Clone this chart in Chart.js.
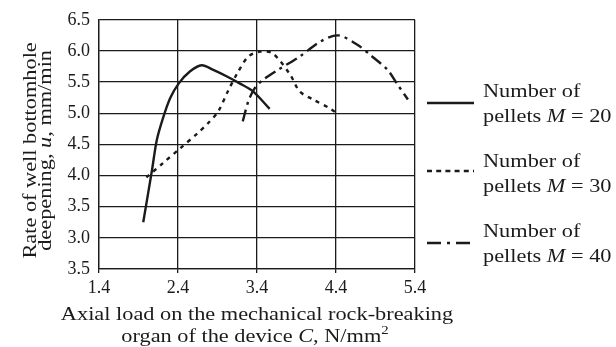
<!DOCTYPE html>
<html>
<head>
<meta charset="utf-8">
<script src="https://cdn.jsdelivr.net/npm/chart.js@4.4.0/dist/chart.umd.min.js"></script>
<style>
  html, body { margin: 0; padding: 0; background: #fff; }
  #wrap { width: 616px; height: 347px; position: relative; }
</style>
</head>
<body>
<div id="wrap"><canvas id="chart" width="616" height="347"></canvas></div>
<script>
// --- data ---
const xTicks = [1.4, 2.4, 3.4, 4.4, 5.4];
const yTicks = [2.5, 3.0, 3.5, 4.0, 4.5, 5.0, 5.5, 6.0, 6.5];
const yTickLabels = ['3.5', '3.0', '3.5', '4.0', '4.5', '5.0', '5.5', '6.0', '6.5'];

const m20X = [1.96, 2.07, 2.13, 2.21, 2.30, 2.41, 2.55, 2.70, 2.84, 3.02, 3.18, 3.35, 3.56];
const m20Y = [3.25, 4.08, 4.56, 4.92, 5.24, 5.48, 5.67, 5.77, 5.70, 5.59, 5.48, 5.35, 5.07];

const m30X = [2.00, 2.21, 2.43, 2.64, 2.78, 2.91, 3.03, 3.15, 3.29, 3.44, 3.60, 3.82, 3.94, 4.11, 4.32, 4.43];
const m30Y = [3.97, 4.20, 4.44, 4.67, 4.84, 5.03, 5.35, 5.64, 5.91, 5.99, 5.96, 5.62, 5.35, 5.22, 5.08, 4.98];

const m40X = [3.22, 3.29, 3.37, 3.48, 3.67, 3.94, 4.20, 4.43, 4.67, 4.83, 5.05, 5.18, 5.31];
const m40Y = [4.87, 5.19, 5.40, 5.54, 5.70, 5.91, 6.15, 6.25, 6.10, 5.94, 5.70, 5.46, 5.22];

const seriesNames = ['20', '30', '40'];
const seriesDash = [[], [4, 5], [12, 5, 3, 5]];

// --- styling ---
const INK = '#1c1a1b';
const SERIF = '"Liberation Serif", "Times New Roman", serif';
const TEXT_SX = 1.24; // reference type is set wider than Liberation Serif

const pts = (xs, ys) => xs.map((x, i) => ({ x: x, y: ys[i] }));

const lineDataset = (label, xs, ys, dash) => ({
    label: label,
    data: pts(xs, ys),
    borderColor: INK,
    borderWidth: 2.4,
    borderDash: dash,
    borderCapStyle: 'butt',
    pointRadius: 0,
    tension: 0.3,
    fill: false
});

// draws a run of text pieces (some italic / superscript), optionally widened
const drawRuns = (ctx, runs, x, y, align) => {
    ctx.save();
    ctx.translate(x, y);
    ctx.scale(TEXT_SX, 1);
    ctx.fillStyle = INK;
    ctx.textBaseline = 'alphabetic';
    ctx.textAlign = 'left';
    const fontOf = (r) => `${r.it ? 'italic ' : ''}${r.size || 18}px ${SERIF}`;
    let total = 0;
    runs.forEach(r => { ctx.font = fontOf(r); total += ctx.measureText(r.t).width; });
    let cx = align === 'center' ? -total / 2 : 0;
    runs.forEach(r => {
        ctx.font = fontOf(r);
        ctx.fillText(r.t, cx, r.dy || 0);
        cx += ctx.measureText(r.t).width;
    });
    ctx.restore();
};

const textPlugin = {
    id: 'textPlugin',
    afterDraw(chart) {
        const ctx = chart.ctx;
        const area = chart.chartArea;
        const midX = (area.left + area.right) / 2;
        const midY = (area.top + area.bottom) / 2 + 6;

        // y axis title (rotated)
        ctx.save();
        ctx.translate(0, midY);
        ctx.rotate(-Math.PI / 2);
        drawRuns(ctx, [{ t: 'Rate of well bottomhole' }], 0, 35.5, 'center');
        drawRuns(ctx, [{ t: 'deepening, ' }, { t: 'u', it: true }, { t: ', mm/min' }], 0, 51, 'center');
        ctx.restore();

        // x axis title
        drawRuns(ctx, [{ t: 'Axial load on the mechanical rock-breaking' }], midX, 320, 'center');
        drawRuns(ctx, [
            { t: 'organ of the device ' }, { t: 'C', it: true }, { t: ', N/mm' },
            { t: '2', size: 12, dy: -8 }
        ], midX - 2, 342, 'center');

        // legend
        const rowBase = [97, 167, 237];
        const sampleY = [103, 171, 243];
        chart.data.datasets.forEach((ds, i) => {
            ctx.save();
            ctx.strokeStyle = INK;
            ctx.lineWidth = 2.6;
            ctx.lineCap = 'butt';
            if (i === 1) ctx.setLineDash([5, 4.2]);
            if (i === 2) ctx.setLineDash([14, 6, 3, 6]);
            ctx.beginPath();
            ctx.moveTo(427, sampleY[i]);
            ctx.lineTo(474, sampleY[i]);
            ctx.stroke();
            ctx.restore();

            drawRuns(ctx, [{ t: 'Number of' }], 483, rowBase[i], 'left');
            drawRuns(ctx, [{ t: 'pellets ' }, { t: 'M', it: true }, { t: ' = ' + seriesNames[i] }], 483, rowBase[i] + 25, 'left');
        });
    }
};

const chart = new Chart(document.getElementById('chart').getContext('2d'), {
    type: 'line',
    data: {
        datasets: [
            lineDataset('M = 20', m20X, m20Y, seriesDash[0]),
            lineDataset('M = 30', m30X, m30Y, seriesDash[1]),
            lineDataset('M = 40', m40X, m40Y, seriesDash[2])
        ]
    },
    options: {
        responsive: false,
        animation: false,
        layout: { padding: { left: 0, right: 201, top: 18, bottom: 0 } },
        scales: {
            x: {
                type: 'linear',
                min: 1.4,
                max: 5.4,
                afterBuildTicks: (scale) => { scale.ticks = xTicks.map(v => ({ value: v })); },
                afterFit: (scale) => { scale.height = 78; },
                ticks: {
                    color: INK,
                    padding: 4,
                    font: { family: SERIF, size: 18 },
                    maxRotation: 0,
                    callback: (v) => v.toFixed(1)
                },
                grid: { color: INK, lineWidth: 1.3, tickLength: 4 },
                border: { color: INK, width: 1.3 }
            },
            y: {
                type: 'linear',
                min: 2.5,
                max: 6.5,
                afterBuildTicks: (scale) => { scale.ticks = yTicks.map(v => ({ value: v })); },
                afterFit: (scale) => { scale.width = 99; },
                ticks: {
                    color: INK,
                    padding: 9,
                    font: { family: SERIF, size: 18 },
                    callback: (v, i) => yTickLabels[i]
                },
                grid: { color: INK, lineWidth: 1.3, tickLength: 0 },
                border: { color: INK, width: 1.3 }
            }
        },
        plugins: {
            legend: { display: false },
            tooltip: { enabled: false }
        }
    },
    plugins: [textPlugin]
});
</script>
</body>
</html>
